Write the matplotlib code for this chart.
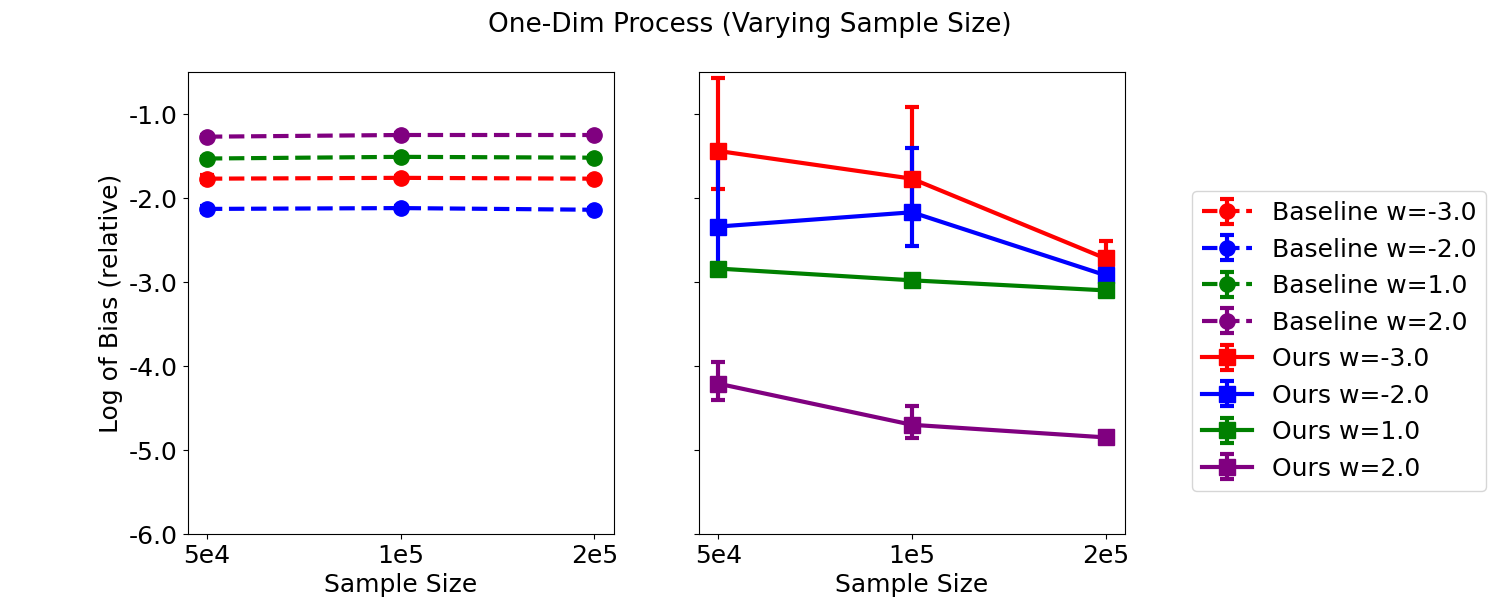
import matplotlib
matplotlib.use("Agg")
import matplotlib.pyplot as plt
from matplotlib.ticker import FormatStrFormatter
import numpy as np

sizes = ["5e4", "1e5", "2e5"]
weights = [-3.0, -2.0, 1.0, 2.0]
colors = ["red", "blue", "green", "purple"]

baseline_mean = [
    [-1.77, -1.76, -1.77],
    [-2.13, -2.12, -2.14],
    [-1.53, -1.51, -1.52],
    [-1.27, -1.25, -1.25],
]
baseline_err = [
    [0.04, 0.02, 0.02],
    [0.04, 0.02, 0.02],
    [0.02, 0.02, 0.02],
    [0.02, 0.02, 0.02],
]

ours_mean = [
    [-1.44, -1.77, -2.72],
    [-2.34, -2.17, -2.92],
    [-2.84, -2.98, -3.10],
    [-4.21, -4.70, -4.85],
]
ours_err_low = [
    [0.45, 0.40, 0.20],
    [0.48, 0.40, 0.05],
    [0.06, 0.05, 0.03],
    [0.19, 0.16, 0.03],
]
ours_err_high = [
    [0.865, 0.85, 0.21],
    [0.90, 0.76, 0.05],
    [0.06, 0.05, 0.03],
    [0.26, 0.22, 0.03],
]

plt.rcParams["font.size"] = 18
fig, (ax1, ax2) = plt.subplots(1, 2, figsize=(15, 6), dpi=100, sharey=True)
fig.subplots_adjust(left=0.125, right=0.75, top=0.88, bottom=0.11, wspace=0.2)

x = np.arange(len(sizes))
handles = []
labels = []
for w, c, m, e in zip(weights, colors, baseline_mean, baseline_err):
    h = ax1.errorbar(x, m, yerr=e, color=c, linestyle="--", marker="o",
                     markersize=11, linewidth=3, capsize=5, capthick=3,
                     elinewidth=3)
    handles.append(h)
    labels.append(f"Baseline w={w}")
for w, c, m, lo, hi in zip(weights, colors, ours_mean, ours_err_low, ours_err_high):
    h = ax2.errorbar(x, m, yerr=[lo, hi], color=c, linestyle="-", marker="s",
                     markersize=11, linewidth=3, capsize=5, capthick=3,
                     elinewidth=3)
    handles.append(h)
    labels.append(f"Ours w={w}")

for ax in (ax1, ax2):
    ax.set_xticks(x)
    ax.set_xticklabels(sizes)
    ax.set_xlabel("Sample Size")
    ax.set_ylim(-6.0, -0.5)
    ax.yaxis.set_major_formatter(FormatStrFormatter("%.1f"))
ax1.set_ylabel("Log of Bias (relative)")

fig.suptitle("One-Dim Process (Varying Sample Size)", fontsize=19)
fig.legend(handles, labels, loc="center left", bbox_to_anchor=(0.786, 0.432),
           fontsize=18)

fig.savefig("out.png")
